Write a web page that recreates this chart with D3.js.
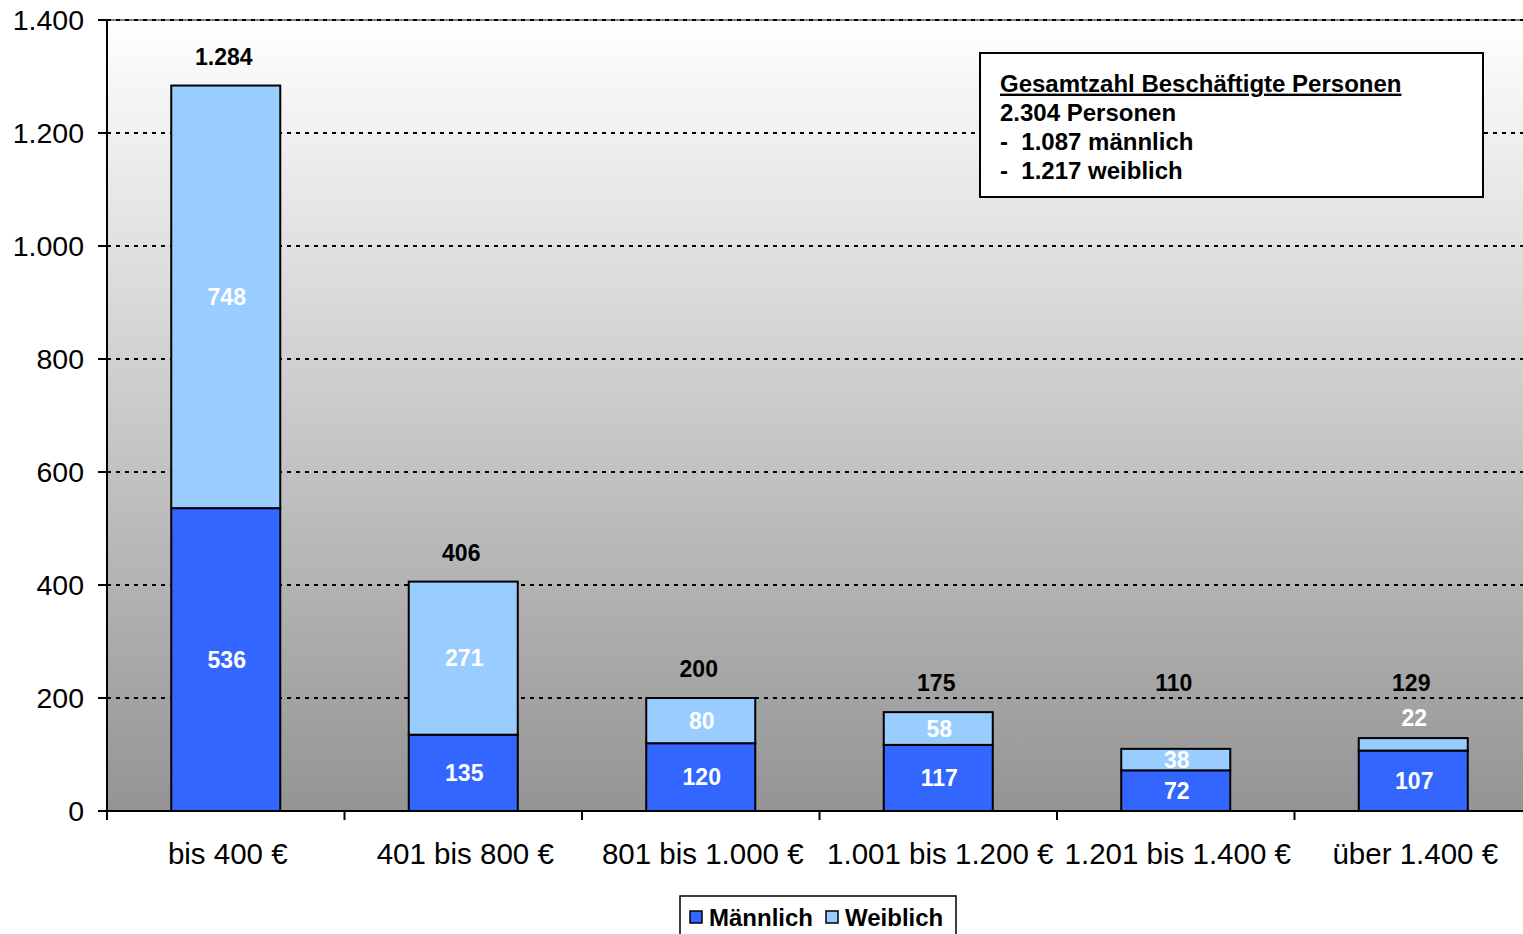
<!DOCTYPE html>
<html><head><meta charset="utf-8">
<script src="https://cdn.jsdelivr.net/npm/d3@7"></script>
<style>html,body{margin:0;padding:0;background:#fff;overflow:hidden}svg{display:block;font-family:"Liberation Sans",Arial,sans-serif}</style>
</head><body>
<svg id="c" width="1523" height="934"></svg>
<script>
const categories = ["bis 400 €","401 bis 800 €","801 bis 1.000 €","1.001 bis 1.200 €","1.201 bis 1.400 €","über 1.400 €"];
const maennlich = [536,135,120,117,72,107];
const weiblich = [748,271,80,58,38,22];
const totals = [1284,406,200,175,110,129];
const yTicks = [0,200,400,600,800,1000,1200,1400];
const seriesNames = ["Männlich","Weiblich"];
const infoLines = ["Gesamtzahl Beschäftigte Personen","2.304 Personen","-  1.087 männlich","-  1.217 weiblich"];

const colors = ["#3366ff","#99ccff"];
const fmt = v => d3.format(",")(v).replace(/,/g,".");
const svg = d3.select("#c");
const L=107,R=1532,T=20,B=811;
const x = d3.scaleBand().domain(categories).range([L,R]).paddingInner(0.541).paddingOuter(0.2705);
const y = d3.scaleLinear().domain([0,1400]).range([B,T]);

const defs = svg.append("defs");
const g = defs.append("linearGradient").attr("id","bg").attr("x1",0).attr("y1",0).attr("x2",0).attr("y2",1);
g.append("stop").attr("offset","0%").attr("stop-color","#ffffff");
g.append("stop").attr("offset","100%").attr("stop-color","#949494");
svg.append("rect").attr("x",L).attr("y",T).attr("width",1523-L).attr("height",B-T).attr("fill","url(#bg)");

// gridlines
svg.append("g").selectAll("line").data(yTicks.filter(d=>d>0)).join("line")
  .attr("x1",L).attr("x2",1523).attr("y1",d=>y(d)).attr("y2",d=>y(d))
  .attr("stroke","#000").attr("stroke-width",2).attr("stroke-dasharray","4,5");

// bars
const stacked = categories.map((c,i)=>({c, segs:[{s:0,v0:0,v1:maennlich[i],v:maennlich[i]},{s:1,v0:maennlich[i],v1:maennlich[i]+weiblich[i],v:weiblich[i]}]}));
const bg = svg.append("g");
stacked.forEach(d=>{
  d.segs.forEach(s=>{
    bg.append("rect").attr("x",x(d.c)).attr("width",x.bandwidth())
      .attr("y",y(s.v1)).attr("height",y(s.v0)-y(s.v1))
      .attr("fill",colors[s.s]).attr("stroke","#000").attr("stroke-width",2);
    const h = y(s.v0)-y(s.v1);
    const ly = h<16 ? y(s.v1)-20 : (y(s.v0)+y(s.v1))/2;
    bg.append("text").attr("x",x(d.c)+x.bandwidth()/2+1).attr("y",ly).attr("dy","0.36em")
      .attr("text-anchor","middle").attr("fill","#fff").attr("font-weight","bold").attr("font-size",23)
      .text(fmt(s.v));
  });
});
// totals
svg.append("g").selectAll("text").data(categories).join("text")
  .attr("x",d=>x(d)+x.bandwidth()/2-2).attr("y",(d,i)=>Math.min(y(totals[i]),y(175))-29)
  .attr("dy","0.36em").attr("text-anchor","middle").attr("font-weight","bold").attr("font-size",23).attr("fill","#000")
  .text((d,i)=>fmt(totals[i]));

// y axis
const ya = svg.append("g");
ya.append("line").attr("x1",L).attr("x2",L).attr("y1",T).attr("y2",B+9).attr("stroke","#000").attr("stroke-width",2);
ya.selectAll("line.t").data(yTicks).join("line").attr("class","t").attr("x1",L-9).attr("x2",L).attr("y1",d=>y(d)).attr("y2",d=>y(d)).attr("stroke","#000").attr("stroke-width",2);
ya.selectAll("text").data(yTicks).join("text").attr("x",84).attr("y",d=>y(d)).attr("dy","0.36em").attr("text-anchor","end").attr("font-size",28.5).attr("fill","#000").text(d=>fmt(d));
svg.append("line").attr("x1",L).attr("x2",1523).attr("y1",T).attr("y2",T).attr("stroke","#000").attr("stroke-width",1);

// x axis
const xa = svg.append("g");
xa.append("line").attr("x1",L-1).attr("x2",1523).attr("y1",B).attr("y2",B).attr("stroke","#000").attr("stroke-width",2);
const step = x.step();
xa.selectAll("line.t").data(categories).join("line").attr("class","t")
  .attr("x1",d=>x(d)+x.bandwidth()/2-step/2).attr("x2",d=>x(d)+x.bandwidth()/2-step/2).attr("y1",B).attr("y2",B+9).attr("stroke","#000").attr("stroke-width",2);
xa.selectAll("text").data(categories).join("text").attr("x",d=>x(d)+x.bandwidth()/2+2).attr("y",853).attr("dy","0.36em")
  .attr("text-anchor","middle").attr("font-size",29.5).attr("fill","#000").text(d=>d);

// info box
const ib = svg.append("g");
ib.append("rect").attr("x",980).attr("y",53).attr("width",503).attr("height",144).attr("fill","#fff").attr("stroke","#000").attr("stroke-width",2);
infoLines.forEach((t,i)=>{
  ib.append("text").attr("x",1000).attr("y",83+i*29).attr("dy","0.36em").attr("font-size",24).attr("font-weight","bold")
    .attr("text-decoration",i===0?"underline":null).attr("xml:space","preserve").style("white-space","pre").text(t);
});

// legend
const lg = svg.append("g");
lg.append("rect").attr("x",680).attr("y",896).attr("width",276).attr("height",50).attr("fill","#fff").attr("stroke","#000").attr("stroke-width",1.5);
const lx=[690,826];
seriesNames.forEach((n,i)=>{
  lg.append("rect").attr("x",lx[i]).attr("y",911).attr("width",12).attr("height",12).attr("fill",colors[i]).attr("stroke","#000").attr("stroke-width",1.5);
  lg.append("text").attr("x",lx[i]+19).attr("y",917).attr("dy","0.36em").attr("font-size",24).attr("font-weight","bold").text(n);
});
</script>
</body></html>
